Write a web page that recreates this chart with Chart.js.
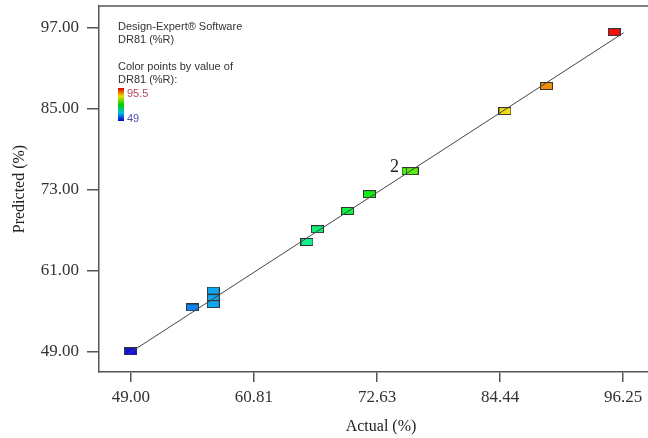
<!DOCTYPE html>
<html>
<head>
<meta charset="utf-8">
<script src="https://cdn.jsdelivr.net/npm/chart.js@4/dist/chart.umd.min.js"></script>
<style>
  html, body { margin: 0; padding: 0; background: #fff; overflow: hidden; }
  #wrap { width: 648px; height: 438px; position: relative; }
  #chart { display: block; }
</style>
</head>
<body>
<div id="wrap"><canvas id="chart"></canvas></div>
<script>
// values
const actual    = [49.0, 54.9, 56.9, 56.9, 56.9, 65.9, 66.9, 69.8, 71.9, 75.6, 76.0, 84.9, 88.9, 95.4];
const predicted = [49.1, 55.6, 58.1, 57.0, 56.1, 65.3, 67.2, 69.9, 72.4, 75.8, 75.8, 84.7, 88.4, 96.4];
const fitLine = [48.8, 96.3];          // y = x reference line
const xTicks = [49.00, 60.81, 72.63, 84.44, 96.25];
const yTicks = [49.00, 61.00, 73.00, 85.00, 97.00];
const colorLow = 49, colorHigh = 95.5;
const multiIndex = 9, multiLabel = '2';

const AXIS = '#555';
const SERIF = '"Liberation Serif", "Times New Roman", serif';
const SANS = '"Liberation Sans", Arial, sans-serif';

function valueColor(v) {
    let t = (v - colorLow) / (colorHigh - colorLow);
    t = Math.max(0, Math.min(1, t));
    const hue = 240 * (1 - t);
    return `hsl(${hue}, 88%, 50%)`;
}

function makeBox(color) {
    const c = document.createElement('canvas');
    c.width = 13; c.height = 8;
    const g = c.getContext('2d');
    g.fillStyle = color;
    g.fillRect(0, 0, 13, 8);
    g.strokeStyle = '#333';
    g.lineWidth = 1;
    g.strokeRect(0.5, 0.5, 12, 7);
    return c;
}

const pointStyles = actual.map(v => makeBox(valueColor(v)));

const overlay = {
    id: 'overlay',
    afterDraw(chart) {
        const ctx = chart.ctx;
        const area = chart.chartArea;
        ctx.save();
        // top frame line
        ctx.strokeStyle = AXIS;
        ctx.lineWidth = 1.5;
        ctx.beginPath();
        ctx.moveTo(area.left, area.top);
        ctx.lineTo(area.right, area.top);
        ctx.stroke();

        // x title sits a bit right of the visible area centre in the original
        ctx.fillStyle = '#222';
        ctx.font = '16px ' + SERIF;
        ctx.textAlign = 'center';
        ctx.textBaseline = 'middle';
        ctx.fillText('Actual (%)', 381, 427);

        // Design-Expert legend text
        ctx.fillStyle = '#333';
        ctx.font = '11px ' + SANS;
        ctx.textBaseline = 'alphabetic';
        ctx.textAlign = 'left';
        ctx.fillText('Design-Expert® Software', 118, 30);
        ctx.fillText('DR81 (%R)', 118, 43);
        ctx.fillText('Color points by value of', 118, 70);
        ctx.fillText('DR81 (%R):', 118, 83);

        const grad = ctx.createLinearGradient(0, 88, 0, 121);
        grad.addColorStop(0, '#e00000');
        grad.addColorStop(0.25, '#e8e000');
        grad.addColorStop(0.5, '#00d000');
        grad.addColorStop(0.75, '#00c0e0');
        grad.addColorStop(1, '#0000d0');
        ctx.fillStyle = grad;
        ctx.fillRect(118, 88, 6, 33);
        ctx.fillStyle = '#b04a5a';
        ctx.fillText(String(colorHigh), 127, 97);
        ctx.fillStyle = '#5050b0';
        ctx.fillText(String(colorLow), 127, 122);

        // multiplicity label
        const meta = chart.getDatasetMeta(1);
        const pt = meta.data[multiIndex];
        ctx.fillStyle = '#222';
        ctx.font = '18px ' + SERIF;
        ctx.textAlign = 'right';
        ctx.textBaseline = 'middle';
        ctx.fillText(multiLabel, pt.x - 9, pt.y - 4);
        ctx.restore();
    }
};

new Chart(document.getElementById('chart'), {
    type: 'scatter',
    data: {
        datasets: [
            {
                type: 'line',
                data: fitLine.map(v => ({ x: v, y: v })),
                borderColor: '#444',
                borderWidth: 1,
                pointRadius: 0,
                fill: false
            },
            {
                data: actual.map((v, i) => ({ x: v, y: predicted[i] })),
                pointStyle: pointStyles,
                pointRadius: 6
            }
        ]
    },
    options: {
        responsive: true,
        maintainAspectRatio: false,
        animation: false,
        events: [],
        layout: { autoPadding: false, padding: { top: 6, right: 0, left: 0, bottom: 0 } },
        plugins: {
            legend: { display: false },
            tooltip: { enabled: false }
        },
        scales: {
            x: {
                type: 'linear',
                min: 45.93,
                max: 98.64,
                afterBuildTicks: s => { s.ticks = xTicks.map(v => ({ value: v })); },
                afterFit: s => { s.height = 66; s.paddingLeft = 0; s.paddingRight = 0; },
                grid: { drawOnChartArea: false, drawTicks: true, tickLength: 10, color: AXIS, lineWidth: 1.5 },
                border: { color: AXIS, width: 1.5 },
                ticks: {
                    color: '#333',
                    padding: 5,
                    maxRotation: 0,
                    autoSkip: false,
                    font: { family: SERIF, size: 17 },
                    callback: v => v.toFixed(2)
                }
            },
            y: {
                type: 'linear',
                min: 46.04,
                max: 100.26,
                afterBuildTicks: s => { s.ticks = yTicks.map(v => ({ value: v })); },
                afterFit: s => { s.width = 99; s.paddingTop = 0; s.paddingBottom = 0; },
                grid: { drawOnChartArea: false, drawTicks: true, tickLength: 12, color: AXIS, lineWidth: 1.5 },
                border: { color: AXIS, width: 1.5 },
                ticks: {
                    color: '#333',
                    padding: 8,
                    autoSkip: false,
                    font: { family: SERIF, size: 17 },
                    callback: v => v.toFixed(2)
                },
                title: {
                    display: true,
                    text: 'Predicted (%)',
                    color: '#222',
                    font: { family: SERIF, size: 16 },
                    padding: { top: 10, bottom: 0 }
                }
            }
        }
    },
    plugins: [overlay]
});
</script>
</body>
</html>
